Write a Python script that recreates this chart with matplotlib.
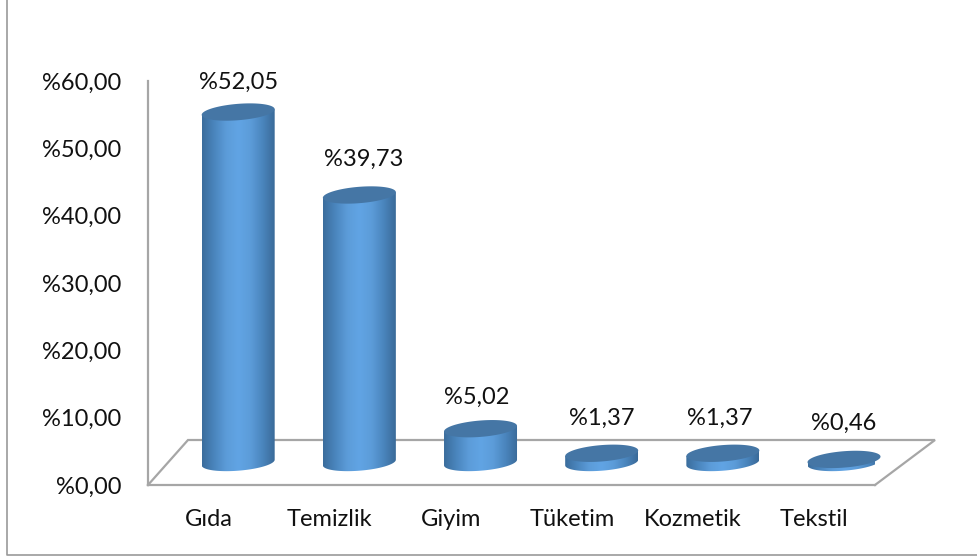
import numpy as np
import matplotlib
matplotlib.use("Agg")
import matplotlib.pyplot as plt
from matplotlib.lines import Line2D
from matplotlib.patches import Polygon
from matplotlib.colors import LinearSegmentedColormap

categories = ["Gıda", "Temizlik", "Giyim", "Tüketim", "Kozmetik", "Tekstil"]
values = [52.05, 39.73, 5.02, 1.37, 1.37, 0.46]
value_labels = ["%52,05", "%39,73", "%5,02", "%1,37", "%1,37", "%0,46"]
y_ticks = [0, 10, 20, 30, 40, 50, 60]
y_tick_labels = ["%0,00", "%10,00", "%20,00", "%30,00", "%40,00", "%50,00", "%60,00"]
label_shift_px = [(0, 30), (4.5, 36), (-4, 31), (0, 35), (-3, 35), (0, 36)]

W, H = 977, 560
plt.rcParams["font.family"] = ["Lato", "DejaVu Sans"]
fig = plt.figure(figsize=(W / 100, H / 100), dpi=100, facecolor="white")

X0, X1, Y0, Y1 = 148, 875, 485, 81
ax = fig.add_axes([X0 / W, 1 - Y0 / H, (X1 - X0) / W, (Y0 - Y1) / H])
ax.set_xlim(0, 6)
ax.set_ylim(0, 60)
ax.patch.set_visible(False)
px_x = 6 / (X1 - X0)
px_y = 60 / (Y0 - Y1)

GRAY = "#a6a6a6"
for s in ("top", "right"):
    ax.spines[s].set_visible(False)
for s in ("left", "bottom"):
    ax.spines[s].set_color(GRAY)
    ax.spines[s].set_linewidth(1.6)
ax.set_yticks(y_ticks, y_tick_labels, fontsize=17, color="#111111")
ax.set_xticks(np.arange(6) + 0.5, categories, fontsize=17, color="#111111")
ax.tick_params(length=0)
ax.tick_params(axis="y", pad=19)
ax.tick_params(axis="x", pad=17)

# floor outline
ax.plot([0, 40 * px_x, 6 + 60 * px_x, 6],
        [0, 45 * px_y, 45 * px_y, 0],
        color=GRAY, lw=1.6, clip_on=False, zorder=1, solid_joinstyle="miter")

# frame
fig.add_artist(Line2D([6.5 / W, 6.5 / W, 1], [1, 1 - 555 / H, 1 - 555 / H], color="#999999", lw=1.2))

cmap = LinearSegmentedColormap.from_list(
    "cyl", ["#3b6d9c", "#4a85bd", "#5c9cd9", "#61a4e4", "#5c9cd9", "#4a85bd", "#3a6a98"])
grad = np.linspace(0, 1, 256).reshape(1, -1)
CAP = "#4576a5"

a = 36.5 * px_x
b = 8.2 * px_y
s = 2.8 * px_y
dx = 29.6 * px_x
base = 22.5 * px_y
t = np.linspace(0, 2 * np.pi, 121)

for i, (v, lab, (sx, sy)) in enumerate(zip(values, value_labels, label_shift_px)):
    cx = i + 0.5 + dx
    ex = cx + a * np.cos(t)
    ey_off = b * np.sin(t) + s * np.cos(t)
    top = base + v
    lower = t[60:121]          # pi..2pi: lower half, left to right
    xs = np.concatenate([[cx - a], cx + a * np.cos(lower), [cx + a]])
    ys = np.concatenate([[top - s], base + b * np.sin(lower) + s * np.cos(lower), [top + s]])
    poly = Polygon(np.column_stack([xs, ys]), closed=True, transform=ax.transData, fc="none", ec="none")
    ax.add_patch(poly)
    im = ax.imshow(grad, extent=[cx - a, cx + a, base - 12 * px_y, top + 10 * px_y],
                   cmap=cmap, aspect="auto", zorder=3, interpolation="bilinear")
    im.set_clip_path(poly)
    ax.fill(ex, top + ey_off, color=CAP, zorder=4, lw=0, clip_on=False)
    ax.annotate(lab, (cx, top), xytext=(sx * 0.72, sy * 0.72), textcoords="offset points",
                ha="center", va="center", fontsize=17, color="#111111", annotation_clip=False)

ax.set_xlim(0, 6)
ax.set_ylim(0, 60)
fig.savefig("out.png", dpi=100)
